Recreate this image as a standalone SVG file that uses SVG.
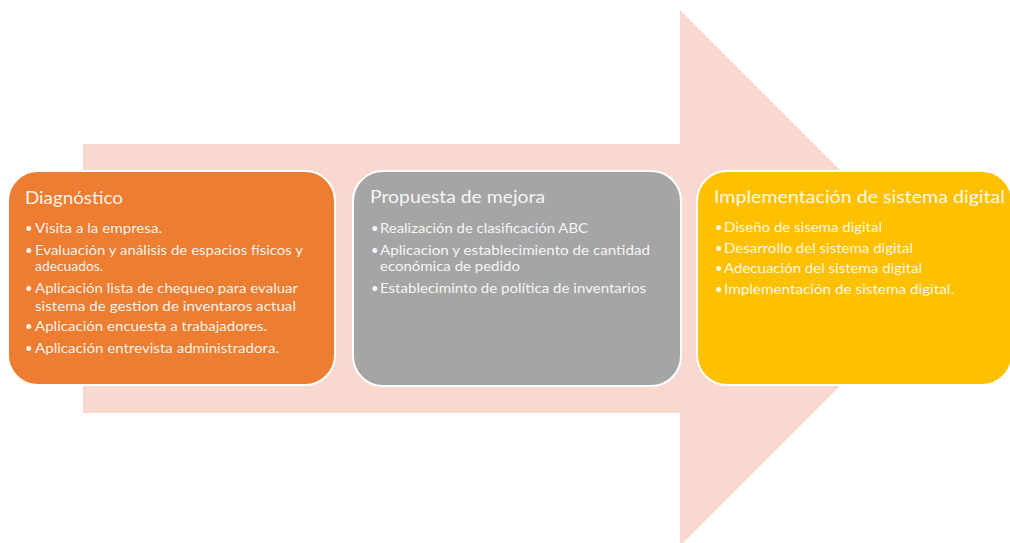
<svg xmlns="http://www.w3.org/2000/svg" width="1010" height="543" viewBox="0 0 1010 543">
<style>
.box{stroke:#FFFFFF;stroke-width:2}
.t{font-family:Lato,"Open Sans","Liberation Sans",sans-serif;fill:#FFFFFF;fill-opacity:0.92}
.h{font-size:18px}
.b{font-size:13px}
</style>
<rect width="1010" height="543" fill="#FFFFFF"/>
<g id="arrow">
<polygon points="83,144 680,144 680,10 948,278 680,546 680,413 83,413" fill="#F8D8CF"/>
</g>
<g id="connectors"></g>
<g id="node-diagnostico">
<rect class="box" x="8" y="171" width="327" height="214" rx="30" fill="#ED7D31"/>
<text class="t h" x="25" y="204" textLength="98" lengthAdjust="spacingAndGlyphs">Diagnóstico</text>
<text class="t b" x="25" y="233">•</text>
<text class="t b" x="35" y="233" textLength="127" lengthAdjust="spacingAndGlyphs">Visita a la empresa.</text>
<text class="t b" x="25" y="255">•</text>
<text class="t b" x="35" y="255" textLength="268" lengthAdjust="spacingAndGlyphs">Evaluación y análisis de espacios físicos y</text>
<text class="t b" x="35" y="271" textLength="68" lengthAdjust="spacingAndGlyphs">adecuados.</text>
<text class="t b" x="25" y="293">•</text>
<text class="t b" x="35" y="293" textLength="263" lengthAdjust="spacingAndGlyphs">Aplicación lista de chequeo para evaluar</text>
<text class="t b" x="35" y="311" textLength="261" lengthAdjust="spacingAndGlyphs">sistema de gestion de inventaros actual</text>
<text class="t b" x="25" y="331">•</text>
<text class="t b" x="35" y="331" textLength="232" lengthAdjust="spacingAndGlyphs">Aplicación encuesta a trabajadores.</text>
<text class="t b" x="25" y="353">•</text>
<text class="t b" x="35" y="353" textLength="244" lengthAdjust="spacingAndGlyphs">Aplicación entrevista administradora.</text>
</g>
<g id="node-propuesta">
<rect class="box" x="353" y="171" width="328" height="215" rx="30" fill="#A5A5A5"/>
<text class="t h" x="370" y="203" textLength="175" lengthAdjust="spacingAndGlyphs">Propuesta de mejora</text>
<text class="t b" x="371" y="233">•</text>
<text class="t b" x="380" y="233" textLength="208" lengthAdjust="spacingAndGlyphs">Realización de clasificación ABC</text>
<text class="t b" x="371" y="255">•</text>
<text class="t b" x="380" y="255" textLength="270" lengthAdjust="spacingAndGlyphs">Aplicacion y establecimiento de cantidad</text>
<text class="t b" x="380" y="271" textLength="140" lengthAdjust="spacingAndGlyphs">económica de pedido</text>
<text class="t b" x="371" y="293">•</text>
<text class="t b" x="380" y="293" textLength="266" lengthAdjust="spacingAndGlyphs">Estableciminto de política de inventarios</text>
</g>
<g id="node-implementacion">
<rect class="box" x="697" y="171" width="315" height="214" rx="30" fill="#FFC000"/>
<text class="t h" x="714" y="203" textLength="291" lengthAdjust="spacingAndGlyphs">Implementación de sistema digital</text>
<text class="t b" x="715" y="232">•</text>
<text class="t b" x="724" y="232" textLength="158" lengthAdjust="spacingAndGlyphs">Diseño de sisema digital</text>
<text class="t b" x="715" y="253">•</text>
<text class="t b" x="724" y="253" textLength="189" lengthAdjust="spacingAndGlyphs">Desarrollo del sistema digital</text>
<text class="t b" x="715" y="273">•</text>
<text class="t b" x="724" y="273" textLength="198" lengthAdjust="spacingAndGlyphs">Adecuación del sistema digital</text>
<text class="t b" x="715" y="294">•</text>
<text class="t b" x="724" y="294" textLength="230" lengthAdjust="spacingAndGlyphs">Implementación de sistema digital.</text>
</g>
</svg>
